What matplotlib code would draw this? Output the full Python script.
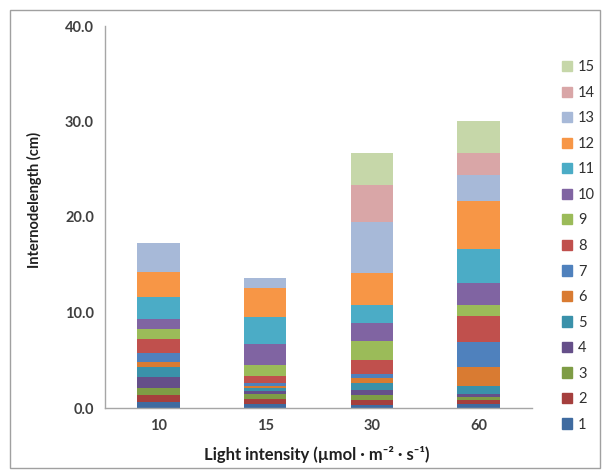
import numpy as np
import matplotlib.pyplot as plt
from matplotlib.patches import Rectangle, Patch

# light intensity groups on the x axis
intensities = ['10', '15', '30', '60']
internodes = [str(i) for i in range(1, 16)]

# internode lengths (cm), internode 1..15, one list per light intensity
len_10 = [0.65, 0.7, 0.7, 1.2, 1.05, 0.5, 0.95, 1.45, 1.05, 1.1, 2.25, 2.6, 3.1, 0, 0]
len_15 = [0.45, 0.5, 0.5, 0.35, 0.25, 0.3, 0.3, 0.65, 1.2, 2.2, 2.8, 3.05, 1.05, 0, 0]
len_30 = [0.35, 0.45, 0.6, 0.45, 0.75, 0.5, 0.5, 1.4, 2.0, 1.9, 1.9, 3.3, 5.4, 3.8, 3.4]
len_60 = [0.4, 0.4, 0.35, 0.35, 0.85, 1.95, 2.6, 2.7, 1.2, 2.3, 3.5, 5.05, 2.8, 2.25, 3.4]

colors = ['#3f6ba0', '#a53f3d', '#7e9c45', '#654f89', '#3a91aa', '#d97b32',
          '#4f81bd', '#c0504d', '#9bbb59', '#8064a2', '#4bacc6', '#f79646',
          '#a7b9d8', '#d9a6a7', '#c6d7a9']

plt.rcParams['font.family'] = ['Lato', 'DejaVu Sans']

fig = plt.figure(figsize=(6.05, 4.74), dpi=100)
ax = fig.add_axes([105 / 605, 66 / 474, 427 / 605, 382 / 474])

# outer chart frame
fig.patches.append(Rectangle((10 / 605, 6 / 474), 590 / 605, 458 / 474,
                             transform=fig.transFigure, fill=False,
                             edgecolor='#a0a0a0', linewidth=1.0))

data = np.array([len_10, len_15, len_30, len_60]).T
x = np.arange(len(intensities))
bottom = np.zeros(len(intensities))
handles = []
for i, seg in enumerate(data):
    ax.bar(x, seg, width=0.4, bottom=bottom, color=colors[i], edgecolor='none')
    bottom += seg
    handles.append(Patch(color=colors[i], label=internodes[i]))

ax.set_xlim(-0.5, 3.5)
ax.set_ylim(0, 40)
ax.set_yticks([0, 10, 20, 30, 40])
ax.set_yticklabels(['0.0', '10.0', '20.0', '30.0', '40.0'])
ax.set_xticks(x)
ax.set_xticklabels(intensities)
ax.tick_params(length=0, labelsize=10.5, labelcolor='#404040', pad=8)
for lab in ax.get_xticklabels() + ax.get_yticklabels():
    lab.set_fontweight('bold')

for s in ['top', 'right']:
    ax.spines[s].set_visible(False)
for s in ['left', 'bottom']:
    ax.spines[s].set_color('#a6a6a6')
    ax.spines[s].set_linewidth(1.0)

ax.set_ylabel('Internodelength (cm)', fontsize=10.5, fontweight='bold', color='#202020')
ax.yaxis.set_label_coords(-0.148, 0.545)
ax.set_xlabel('Light intensity (µmol ∙ m⁻² ∙ s⁻¹)', fontsize=12, fontweight='bold', color='#202020')
ax.xaxis.set_label_coords(0.496, -0.10)

fig.legend(handles=handles[::-1], loc='center left', bbox_to_anchor=(562 / 605, 0.481),
           frameon=False, fontsize=10.5, handlelength=0.7, handleheight=0.7,
           handletextpad=0.4, labelspacing=0.79, borderpad=0, borderaxespad=0,
           labelcolor='#303030')

fig.savefig('out.png', dpi=100)
